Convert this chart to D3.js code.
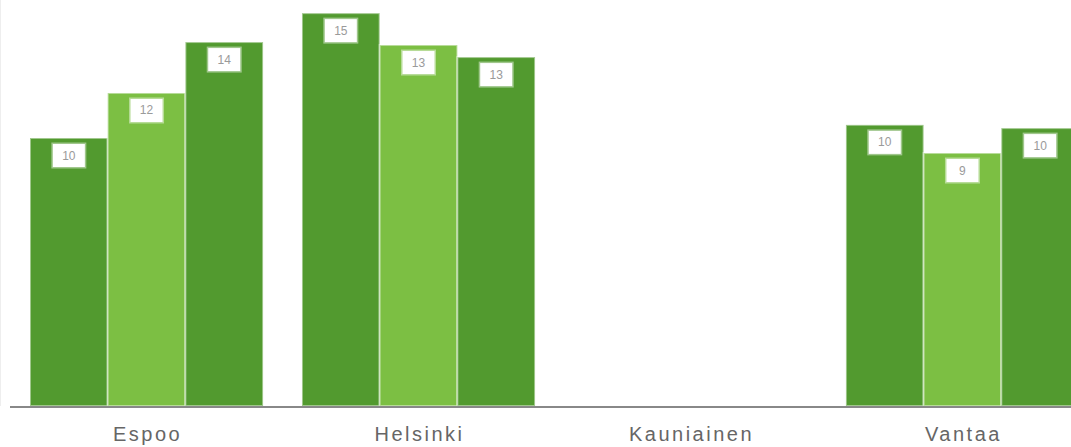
<!DOCTYPE html>
<html>
<head>
<meta charset="utf-8">
<script src="https://cdn.jsdelivr.net/npm/d3@7"></script>
<style>
  html, body { margin: 0; padding: 0; background: #fff; overflow: hidden; }
  svg { display: block; }
</style>
</head>
<body>
<svg id="chart" width="1071" height="447"></svg>
<script>
// ---- data ----
const categories = ["Espoo", "Helsinki", "Kauniainen", "Vantaa"];
const seriesNames = ["Sarja 1", "Sarja 2", "Sarja 3"];
const series1 = [10.0, 14.66, null, 10.49];
const series2 = [11.68, 13.47, null, 9.44];
const series3 = [13.58, 13.02, null, 10.37];
const seriesColors = ["#529a2f", "#7cbf43", "#529a2f"];

// ---- build ----
const W = 1071, H = 447;
const baseY = 406;
const svg = d3.select("#chart");

const allSeries = [series1, series2, series3];
const rows = [];
categories.forEach((c, ci) => {
  allSeries.forEach((s, si) => {
    if (s[ci] != null) rows.push({ cat: c, ser: seriesNames[si], si, value: s[ci] });
  });
});

const x0 = d3.scaleBand().domain(categories).range([10.5, 1098.5])
  .paddingInner(0.143).paddingOuter(0.0717);
const x1 = d3.scaleBand().domain(seriesNames).range([0, x0.bandwidth()]).padding(0);
const y = d3.scaleLinear().domain([0, 15.15]).range([baseY, 0]);

// faint left border
svg.append("line").attr("x1", 0.5).attr("x2", 0.5).attr("y1", 0).attr("y2", baseY)
  .attr("stroke", "#eeeeee").attr("stroke-width", 1);

// bars
const g = svg.append("g");
g.selectAll("rect.bar").data(rows).join("rect")
  .attr("class", "bar")
  .attr("x", d => x0(d.cat) + x1(d.ser))
  .attr("y", d => y(d.value))
  .attr("width", x1.bandwidth())
  .attr("height", d => baseY - y(d.value))
  .attr("fill", d => seriesColors[d.si])
  .attr("stroke", "rgba(255,255,255,0.45)")
  .attr("stroke-width", 2);

// value labels
const fmt = d3.format(".0f");
const bw = 32, bh = 23;
const lab = g.selectAll("g.lab").data(rows).join("g")
  .attr("class", "lab")
  .attr("transform", d => `translate(${x0(d.cat) + x1(d.ser) + x1.bandwidth() / 2},${y(d.value) + 6})`);
lab.append("rect")
  .attr("x", -bw / 2).attr("y", 0).attr("width", bw).attr("height", bh)
  .attr("fill", "#ffffff")
  .attr("stroke", "rgba(255,255,255,0.45)").attr("stroke-width", 3);
lab.append("text")
  .attr("x", 0).attr("y", bh / 2 + 4)
  .attr("text-anchor", "middle")
  .attr("font-family", "Liberation Sans, Arial, sans-serif")
  .attr("font-size", 12)
  .attr("fill", "#9a9a9a")
  .text(d => fmt(d.value));

// x axis
const axis = svg.append("g").attr("transform", `translate(0,${baseY + 1})`);
axis.append("line").attr("x1", 10).attr("x2", W).attr("y1", 0).attr("y2", 0)
  .attr("stroke", "#888888").attr("stroke-width", 2);
axis.selectAll("text").data(categories).join("text")
  .attr("x", d => x0(d) + x0.bandwidth() / 2 + 1)
  .attr("y", 34)
  .attr("text-anchor", "middle")
  .attr("font-family", "Liberation Sans Narrow, Liberation Sans, Arial, sans-serif")
  .attr("font-size", 20)
  .attr("letter-spacing", "2.5px")
  .attr("fill", "#666666")
  .text(d => d);
</script>
</body>
</html>
